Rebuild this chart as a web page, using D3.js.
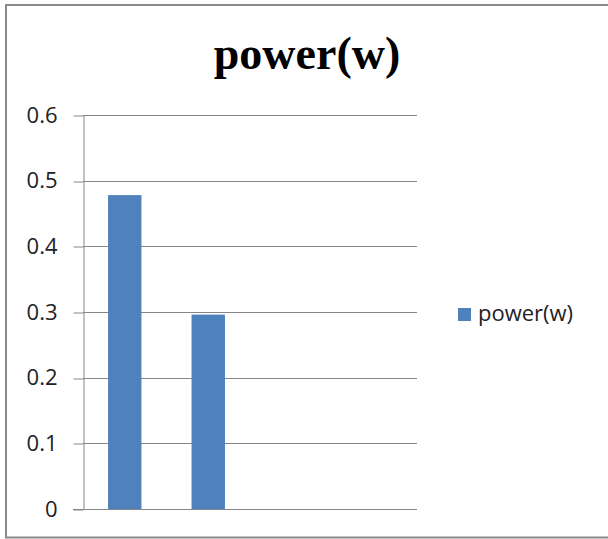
<!DOCTYPE html>
<html>
<head>
<meta charset="utf-8">
<script src="https://cdn.jsdelivr.net/npm/d3@7/dist/d3.min.js"></script>
<style>
  html, body { margin: 0; padding: 0; background: #fff; }
  svg { display: block; }
</style>
</head>
<body>
<svg id="chart" width="608" height="539"></svg>
<script>
// ---- data ----
const title = "power(w)";
const seriesName = "power(w)";
const categories = ["1", "2", "3", "4"];
const values = [0.478, 0.296, null, null];
const yTicks = [0, 0.1, 0.2, 0.3, 0.4, 0.5, 0.6];

// ---- layout ----
const W = 608, H = 539;
const plot = { left: 83, right: 417, top: 115, bottom: 509 };
const barColor = "#4F81BD";
const gridColor = "#868686";
const labelFont = "'Open Sans', 'Noto Sans', sans-serif";

const svg = d3.select("#chart");

// background + frame
svg.append("rect").attr("x", 0).attr("y", 0).attr("width", W).attr("height", H).attr("fill", "#fff");
svg.append("rect")
  .attr("x", 6).attr("y", 5).attr("width", W + 20).attr("height", 532.5)
  .attr("fill", "#fff").attr("stroke", "#8a8a8a").attr("stroke-width", 2);

// scales
const x = d3.scaleBand().domain(categories).range([plot.left, plot.right])
  .paddingInner(0.6).paddingOuter(0.3);
const y = d3.scaleLinear().domain([0, 0.6]).range([plot.bottom, plot.top]);

// gridlines
svg.append("g").selectAll("line").data(yTicks).join("line")
  .attr("x1", plot.left).attr("x2", plot.right)
  .attr("y1", d => Math.round(y(d)) + 0.5).attr("y2", d => Math.round(y(d)) + 0.5)
  .attr("stroke", gridColor).attr("stroke-width", 1);

// y axis
const yAxis = d3.axisLeft(y).tickValues(yTicks)
  .tickFormat(d => d === 0 ? "0" : d3.format(".1f")(d))
  .tickSize(10).tickSizeOuter(0).tickPadding(16);
const gy = svg.append("g").attr("transform", `translate(${plot.left + 0.5},0)`).call(yAxis);
gy.select(".domain").attr("stroke", gridColor);
gy.selectAll(".tick line").attr("stroke", gridColor)
  .attr("transform", d => `translate(0,${Math.round(y(d)) + 0.5 - y(d)})`);
gy.selectAll(".tick text")
  .attr("font-family", labelFont).attr("font-size", 22).attr("fill", "#222");

// bars
svg.append("g").selectAll("rect").data(categories.map((c, i) => ({ c, v: values[i] })).filter(d => d.v != null))
  .join("rect")
  .attr("x", d => x(d.c)).attr("width", x.bandwidth())
  .attr("y", d => y(d.v)).attr("height", d => y(0) - y(d.v))
  .attr("fill", barColor);

// baseline redrawn on top
svg.append("line")
  .attr("x1", plot.left - 10).attr("x2", plot.right)
  .attr("y1", Math.round(y(0)) + 0.5).attr("y2", Math.round(y(0)) + 0.5)
  .attr("stroke", gridColor);

// title
svg.append("text")
  .attr("x", 307).attr("y", 69).attr("text-anchor", "middle")
  .attr("font-family", "'Liberation Serif', 'Times New Roman', serif")
  .attr("font-weight", "bold").attr("font-size", 46).attr("fill", "#000")
  .text(title);

// legend
const lg = svg.append("g").attr("transform", "translate(458,308)");
lg.append("rect").attr("width", 13).attr("height", 13).attr("fill", barColor);
lg.append("text").attr("x", 20).attr("y", 13)
  .attr("font-family", labelFont).attr("font-size", 22).attr("fill", "#222")
  .text(seriesName);
</script>
</body>
</html>
